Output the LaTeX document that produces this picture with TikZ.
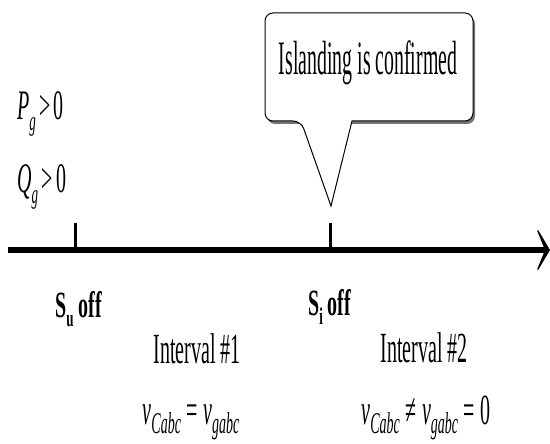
\documentclass[tikz,border=0pt]{standalone}
\usepackage{fontspec}
\setmainfont{Liberation Serif}
\usepackage{graphicx}
\usetikzlibrary{arrows.meta}
\newcommand\sbs[1]{\raisebox{-5pt}{\fontsize{13}{13}\selectfont #1}}
\newcommand\sbm[1]{\raisebox{-4.6pt}{\fontsize{14}{14}\selectfont\itshape #1}}
\begin{document}
\begin{tikzpicture}[x=1pt,y=-1pt,
  lab/.style={inner sep=0pt, font=\fontsize{20}{24}\selectfont},
  axisline/.style={line width=6pt, -{Stealth[length=16pt,width=54pt,inset=11pt]}},
  tickline/.style={line width=3pt},
  bubble/.style={draw=black, line width=1pt, fill=white, line join=miter},
  bubbleshadow/.style={fill=black!55, rounded corners=8pt}]
\useasboundingbox (0,0) rectangle (550,444);

% callout
\fill[bubbleshadow] (267,16) rectangle (475,124);
\draw[bubble] (352,121) [rounded corners=8pt] -- (473,121) -- (473,13) -- (265,13) -- (265,121) -- (301,121) [sharp corners] -- (331,206) -- cycle;
\node[lab, anchor=base] (conf) at (368,75) {\scalebox{0.99}[2.4]{Islanding is confirmed}};

% conditions
\node[lab, anchor=base west] (pg) at (17,120) {\scalebox{1}[2.1]{\textit{P}\sbs{\itshape g}\,{>}\,0}};
\node[lab, anchor=base west] (qg) at (17,193) {\scalebox{1}[2.1]{\textit{Q}\sbs{\itshape g}\,{>}\,0}};

% axis
\coordinate (axstart) at (8,250);
\coordinate (axend) at (550,250);
\draw[axisline] (axstart) -- (axend);
\coordinate (t1top) at (75,223);
\coordinate (t1bot) at (75,250);
\coordinate (t2top) at (330,223);
\coordinate (t2bot) at (330,250);
\draw[tickline] (t1top) -- (t1bot);
\draw[tickline] (t2top) -- (t2bot);

% labels
\node[lab, anchor=base west] (su) at (55,317) {\scalebox{1}[1.85]{\bfseries S\sbs{u} off}};
\node[lab, anchor=base west] (si) at (308,315) {\scalebox{1}[1.85]{\bfseries S\sbs{i} off}};
\node[lab, anchor=base] (int1) at (197,363) {\scalebox{1}[2.15]{Interval \#1}};
\node[lab, anchor=base] (int2) at (424,362) {\scalebox{1}[2.15]{Interval \#2}};
\node[lab, anchor=base] (eq1) at (191,424) {\scalebox{1}[2.15]{\textit{v}\sbm{Cabc}\;=\;\textit{v}\sbm{gabc}}};
\node[lab, anchor=base] (eq2) at (426,424) {\scalebox{1}[2.15]{\textit{v}\sbm{Cabc}\;≠\;\textit{v}\sbm{gabc}\;=\;0}};
\end{tikzpicture}
\end{document}
